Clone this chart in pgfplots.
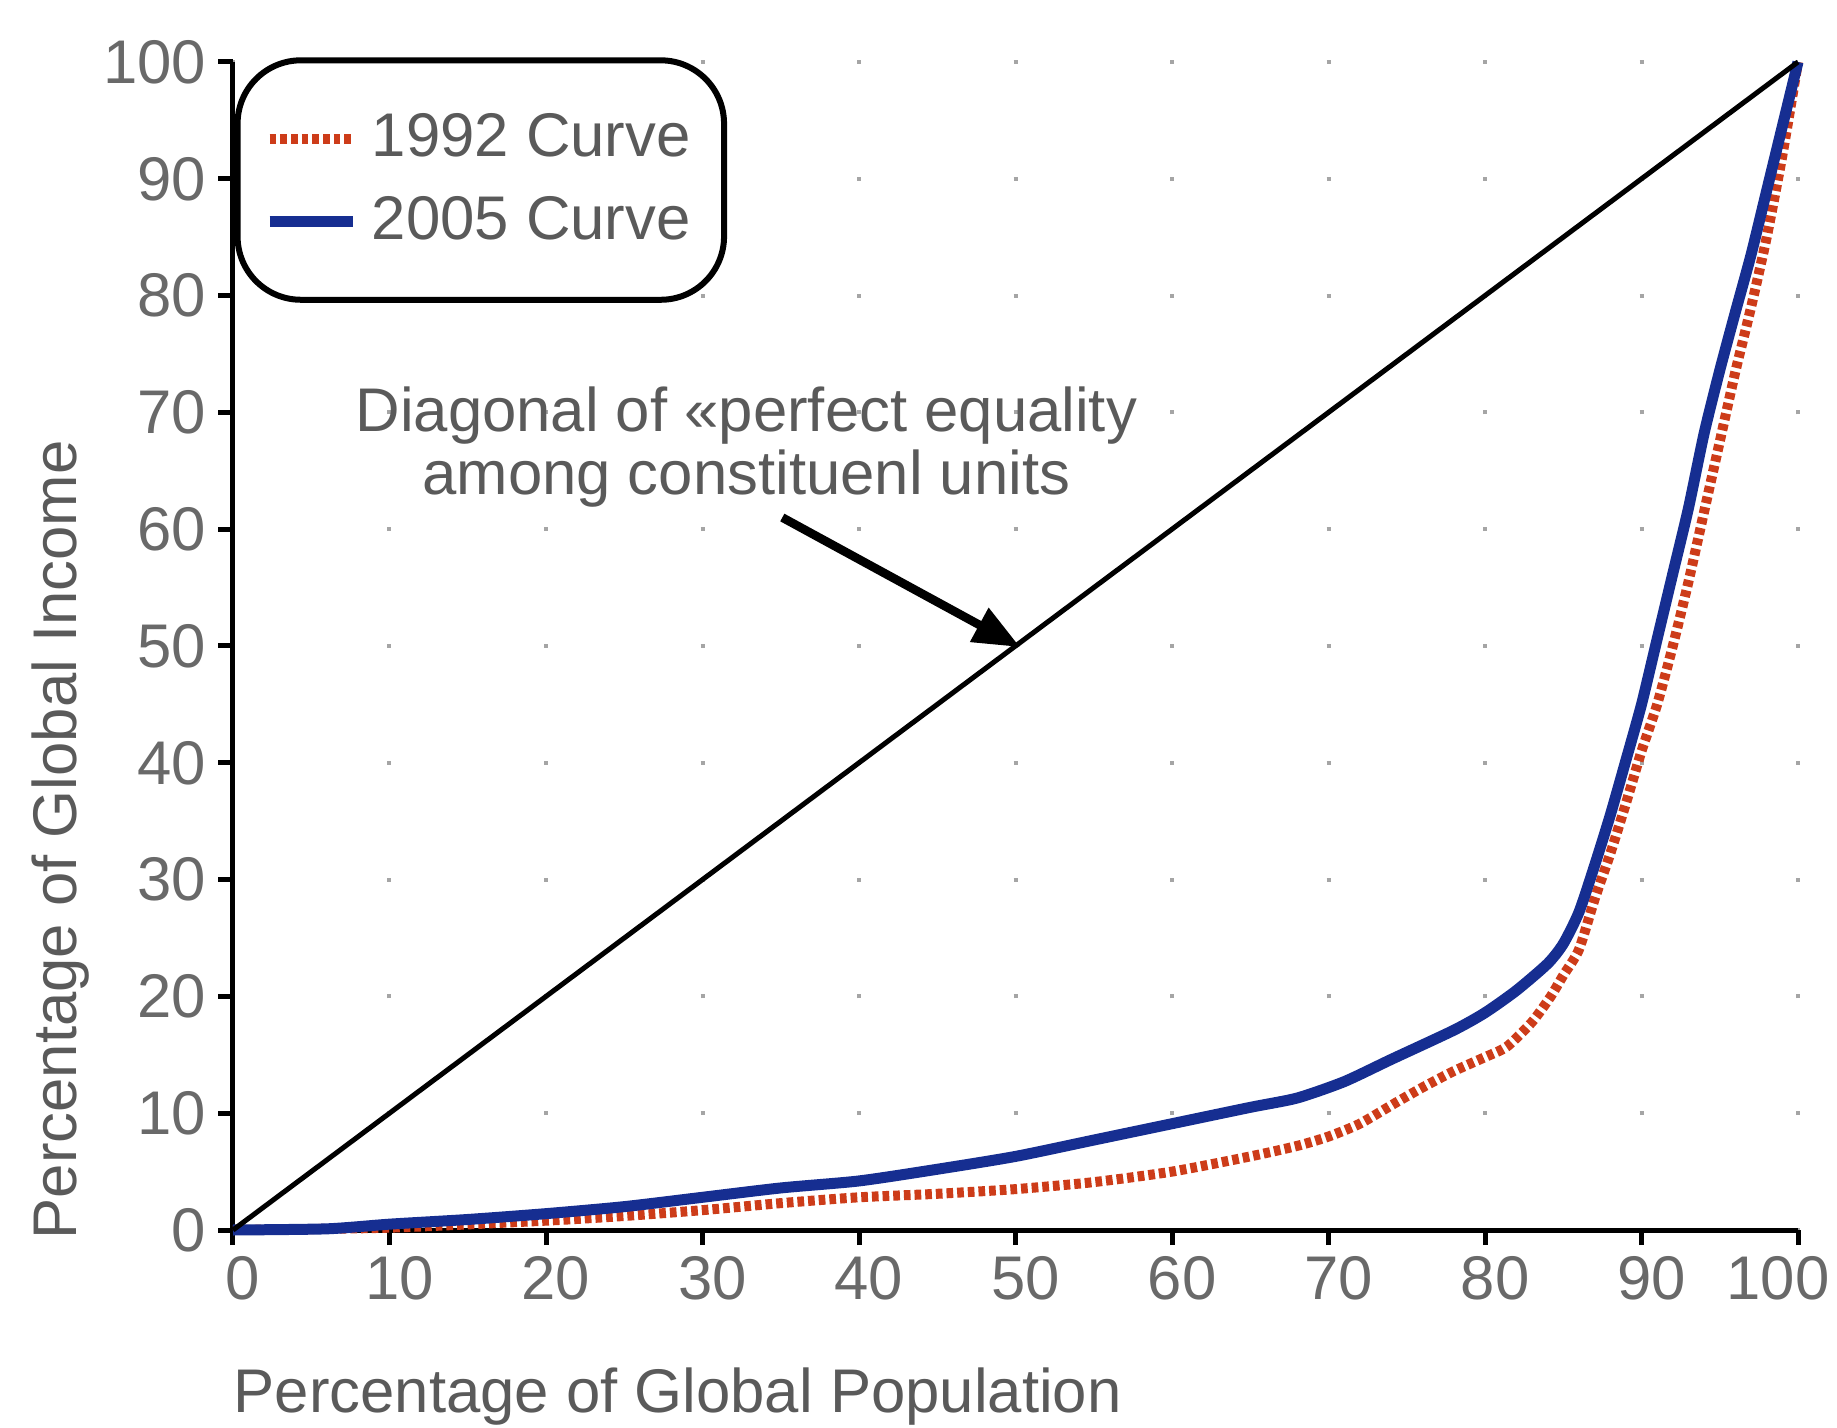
\documentclass[border=0pt]{standalone}
\usepackage{fontspec}
\setmainfont{Liberation Sans}
\usepackage{pgfplots}
\pgfplotsset{compat=1.18}
\usetikzlibrary{arrows.meta}

\definecolor{textgray}{RGB}{90,90,90}
\definecolor{tickgray}{RGB}{105,105,105}
\definecolor{dotgray}{RGB}{165,165,165}
\definecolor{curvered}{RGB}{205,60,25}
\definecolor{curveblue}{RGB}{22,46,145}

\newcommand{\bigfont}{\fontsize{18.5}{22}\selectfont}

\begin{document}
\begin{tikzpicture}
\begin{axis}[
  scale only axis,
  width=469.5pt, height=350.4pt,
  xmin=0, xmax=100, ymin=0, ymax=100,
  axis lines=left,
  axis line style={-, line width=1.5pt, black},
  xtick={0,10,...,100}, ytick={0,10,...,100},
  tick align=outside,
  major tick length=4.5pt,
  tick style={black, line width=1.5pt},
  /pgf/number format/assume math mode=true,
  ticklabel style={font=\bigfont, text=tickgray},
  xticklabel style={xshift=3pt},
  xticklabels={0,10,20,30,40,50,60,70,80,90,100\hspace*{18pt}},
  grid=major,
  x grid style={dotgray, line width=1.2pt, dash pattern=on 1.2pt off 33.84pt, dash phase=0.6pt},
  y grid style={dotgray, line width=1.2pt, dash pattern=on 1.2pt off 45.75pt, dash phase=0.6pt},
  xlabel={Percentage of Global Population},
  ylabel={Percentage of Global Income},
  label style={font=\bigfont, text=textgray, inner sep=0pt},
  xlabel style={at={(axis description cs:0,-0.156)}, anchor=base west},
  ylabel style={at={(axis description cs:-0.1003,0.334)}, anchor=base},
  clip=false,
  legend image code/.code={\draw[#1] (0pt,0pt) -- (25pt,0pt);},
  legend cell align=left,
  legend style={at={(0.001,1.004)}, anchor=north west, draw=black,
    line width=1.8pt, rounded corners=19pt, inner xsep=8pt, inner ysep=14pt,
    row sep=6pt, column sep=2pt, font=\bigfont, text=textgray,
    nodes={inner sep=2pt, text depth=0.2em}},
]
% 1992
\addplot[curvered, line width=3pt, dash pattern=on 2pt off 1.2pt, smooth, tension=0.4] table {
0 0
10 0.2
20 0.8
25 1.2
30 1.7
35 2.3
40 2.8
45 3.1
50 3.5
55 4.1
60 5.0
65 6.3
68 7.2
70 8.0
72 9.1
74.3 10.9
76 12.2
78 13.6
80 14.8
81.4 15.7
83 17.8
84.2 20.0
85 21.8
86 24.0
87 28.3
88 32.2
89 36.5
90 41.0
91 45.0
92 50.0
93 55.5
94 61.5
95 67.5
96 73.5
97 79.0
98 85.0
99 92.0
100 100
};
\addlegendentry{1992 Curve}
% 2005
\addplot[curveblue, line width=3.3pt, smooth, tension=0.4] table {
0 0
6 0.1
10 0.5
15 0.9
20 1.4
25 2.0
30 2.8
35 3.6
40 4.2
45 5.2
50 6.3
55 7.7
60 9.1
65 10.5
68 11.3
71 12.7
74 14.6
78 17.1
80 18.6
82 20.5
84 22.8
85 24.5
86 27.2
87 31.2
88 35.5
89 40.2
90 45.0
91 50.6
92 56.2
93 61.8
94 68.2
95 73.6
96 78.6
97 83.5
98 89.0
99 94.5
100 100
};
\addlegendentry{2005 Curve}
% diagonal of perfect equality
\addplot[black, line width=1.5pt, forget plot] coordinates {(0,0) (100,100)};

\node[font=\bigfont, text=textgray, inner sep=0pt, anchor=base] at (axis cs:32.8,68.35) {Diagonal of «perfect equality};
\node[font=\bigfont, text=textgray, inner sep=0pt, anchor=base] at (axis cs:32.8,62.93) {among constituenl units};
\draw[line width=2.6pt, -{Triangle[length=14pt, width=11pt]}] (axis cs:35.1,61.0) -- (axis cs:50.3,49.9);

\coordinate (bbsw) at (rel axis cs:0,0);
\coordinate (bbne) at (rel axis cs:1,1);
\end{axis}
\pgfresetboundingbox
\path[use as bounding box] ([xshift=-69.9pt, yshift=-59.1pt]bbsw) rectangle ([xshift=11.7pt, yshift=18.6pt]bbne);
\end{tikzpicture}
\end{document}
